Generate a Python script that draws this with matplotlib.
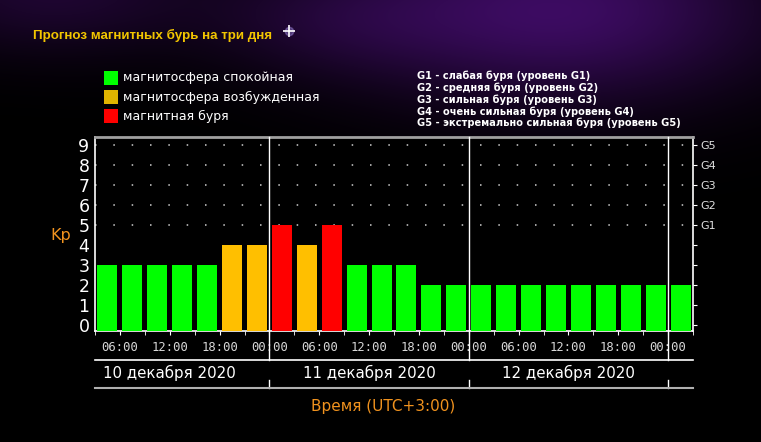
import numpy as np
import matplotlib
matplotlib.use('Agg')
import matplotlib.pyplot as plt
from matplotlib.patches import Rectangle

# данные прогноза: Kp по трёхчасовым интервалам, начиная с 03:00 10 декабря
kp = [3, 3, 3, 3, 3, 4, 4,
      5, 4, 5, 3, 3, 3, 2, 2,
      2, 2, 2, 2, 2, 2, 2, 2,
      2]
time_labels = ['06:00', '12:00', '18:00', '00:00'] * 3
time_pos = [1, 3, 5, 7, 9, 11, 13, 15, 17, 19, 21, 23]
day_labels = ['10 декабря 2020', '11 декабря 2020', '12 декабря 2020']
day_centers = [3, 11, 19]
day_bounds = [7, 15, 23]
g_labels = ['G1', 'G2', 'G3', 'G4', 'G5']
g_levels = [5, 6, 7, 8, 9]
legend_items = ['магнитосфера спокойная', 'магнитосфера возбужденная', 'магнитная буря']
g_text = ['G1 - слабая буря (уровень G1)',
          'G2 - средняя буря (уровень G2)',
          'G3 - сильная буря (уровень G3)',
          'G4 - очень сильная буря (уровень G4)',
          'G5 - экстремально сильная буря (уровень G5)']

GREEN, ORANGE, RED = '#00ff00', '#ffbf00', '#ff0000'
W, H = 761, 442


def fx(x):
    return x / W


def fy(y):
    return 1 - y / H


def bar_color(v):
    if v >= 5:
        return RED
    if v == 4:
        return ORANGE
    return GREEN


fig = plt.figure(figsize=(7.61, 4.42), dpi=100, facecolor='black')

# фон - фиолетовая туманность сверху
bg = fig.add_axes([0, 0, 1, 1], zorder=-5)
yy, xx = np.mgrid[0:H, 0:W]
glow = (0.9 * np.exp(-((xx - 560) ** 2 / (2 * 150 ** 2) + (yy - 10) ** 2 / (2 * 65 ** 2)))
        + 0.45 * np.exp(-((xx - 50) ** 2 / (2 * 110 ** 2) + (yy + 10) ** 2 / (2 * 45 ** 2)))
        + 0.3 * np.exp(-((xx - 330) ** 2 / (2 * 90 ** 2) + (yy - 20) ** 2 / (2 * 40 ** 2))))
glow = np.clip(glow, 0, 1)
img = np.zeros((H, W, 3))
img[..., 0] = 0.26 * glow
img[..., 1] = 0.05 * glow
img[..., 2] = 0.42 * glow
bg.imshow(img, aspect='auto', extent=[0, W, H, 0])
bg.plot([289], [31], marker='o', color='#b8a0ff', markersize=6, alpha=0.35)
bg.plot([289], [31], marker='+', color='white', markersize=9, mew=1.2)
bg.set_xlim(0, W)
bg.set_ylim(H, 0)
bg.axis('off')

# заголовок и легенды
fig.text(fx(33), fy(35), 'Прогноз магнитных бурь на три дня', color='#f2c500',
         fontsize=9.6, fontweight='bold', family='Liberation Sans', va='center')
for i, (lab, c) in enumerate(zip(legend_items, [GREEN, '#e0b400', RED])):
    y0 = 71 + i * 19
    fig.patches.append(Rectangle((fx(104), fy(y0 + 14)), 14 / W, 14 / H,
                                 transform=fig.transFigure, facecolor=c, edgecolor='none'))
    fig.text(fx(123), fy(y0 + 7), lab, color='white', fontsize=9,
             family='DejaVu Sans', va='center')
for i, t in enumerate(g_text):
    fig.text(fx(417), fy(76 + i * 11.8), t, color='white', fontsize=7.1,
             fontweight='bold', family='DejaVu Sans', va='center')

# основной график
ax = fig.add_axes([fx(95), fy(331), 598 / W, 194 / H])
ax.set_facecolor('black')
ybot = -0.3
x = np.arange(len(kp)) + 0.5
vals = np.array(kp)
ax.bar(x, vals - ybot, bottom=ybot, width=0.8, color=[bar_color(v) for v in kp],
       edgecolor='none', zorder=3)
ax.set_xlim(0, len(kp))
ax.set_ylim(ybot, 9.4)

for lev in g_levels:
    ax.axhline(lev, color='#d0d0d0', lw=1.1, linestyle=(0, (1, 11)), zorder=1)

for s in ['left', 'right', 'bottom']:
    ax.spines[s].set_color('white')
    ax.spines[s].set_linewidth(1.2)
ax.spines['top'].set_color('#a0a0a0')
ax.spines['top'].set_linewidth(2)

ax.set_yticks(range(10))
ax.set_yticklabels([str(i) for i in range(10)], color='white', fontsize=12.5)
ax.tick_params(axis='y', length=0, pad=4)

ax.set_xticks(time_pos)
ax.set_xticklabels(time_labels, color='#d8d8d8', fontsize=8.8, family='DejaVu Sans Mono')
ax.set_xticks(range(len(kp) + 1), minor=True)
ax.tick_params(axis='x', which='both', length=3, color='white', pad=4, direction='out')

ax.text(-0.058, 0.49, 'Kp', transform=ax.transAxes, color='#f0921e', fontsize=11.5,
        ha='center', va='center')

ax2 = ax.twinx()
ax2.set_ylim(ax.get_ylim())
ax2.set_yticks(range(10))
ax2.set_yticklabels(['' if i < 5 else g_labels[i - 5] for i in range(10)],
                    color='#e0e0e0', fontsize=8, family='DejaVu Sans')
ax2.tick_params(axis='y', length=3, color='white', pad=2)
for s in ax2.spines.values():
    s.set_visible(False)

# разделители дней и нижние строки
tr = ax.get_xaxis_transform()
for b in day_bounds:
    ax.plot([b, b], [1, -0.15], transform=tr, color='white', lw=1, clip_on=False, zorder=4)
    ax.plot([b, b], [-0.255, -0.295], transform=tr, color='white', lw=1, clip_on=False)
ax.plot([0, len(kp)], [-0.15, -0.15], transform=tr, color='white', lw=1.2, clip_on=False)
ax.plot([0, len(kp)], [-0.295, -0.295], transform=tr, color='#b0b0b0', lw=1.5, clip_on=False)
for c, lab in zip(day_centers, day_labels):
    ax.text(c, -0.218, lab, transform=tr, color='white', fontsize=10.8,
            ha='center', va='center')

fig.text(fx(383), fy(407), 'Время (UTC+3:00)', color='#f0921e', fontsize=11,
         ha='center', va='center')

fig.savefig('out.png', dpi=100, facecolor='black')
